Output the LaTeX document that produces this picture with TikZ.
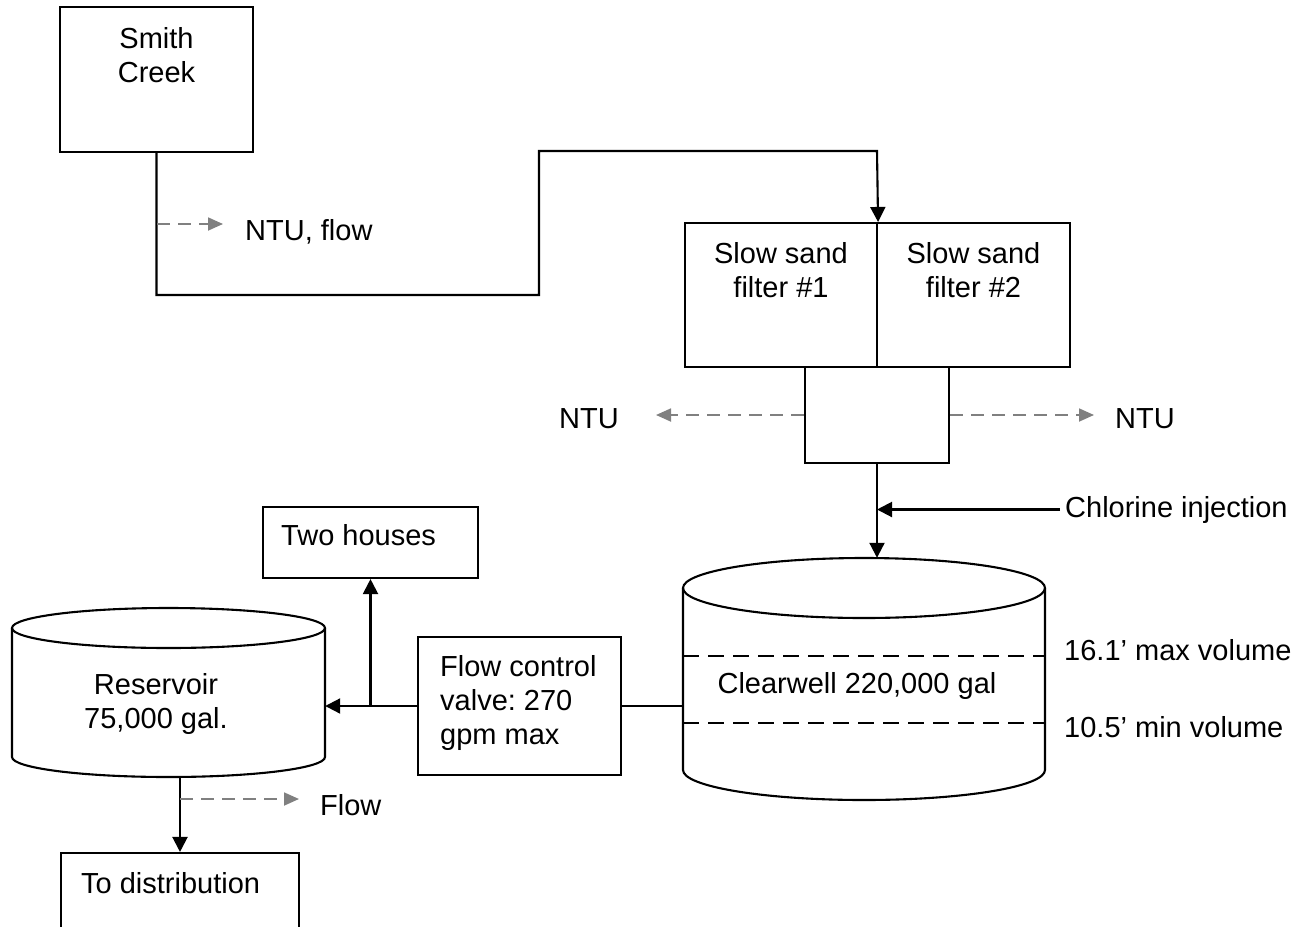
\documentclass[tikz,border=0pt]{standalone}
\usepackage{fontspec}
\setmainfont{Liberation Sans}
\usetikzlibrary{arrows.meta}
\definecolor{probegray}{RGB}{128,128,128}
\frenchspacing
\tikzset{
  unit/.style={draw, line width=2.1pt, inner sep=0pt},
  tank/.style={inner sep=0pt},
  txt/.style={inner sep=0pt, align=left},
  pipe/.style={line width=2.1pt},
  flowline/.style={pipe, -{Triangle[length=15pt,width=15pt]}},
  probe/.style={draw=probegray, line width=1.8pt, dash pattern=on 13pt off 8pt,
    -{Triangle[length=15pt,width=13pt]}},
  level/.style={line width=2.1pt, dash pattern=on 16pt off 9pt}
}
\begin{document}
\begin{tikzpicture}[x=1pt, y=-1pt, font=\fontsize{29}{34}\selectfont]
  \useasboundingbox (0,0) rectangle (1305,926);
  \clip (0,0) rectangle (1305,926);

  \node[unit, minimum width=193pt, minimum height=145pt] (creek) at (156.5,79.5) {};
  \node[txt, align=center, anchor=north] (creektxt) at (156.5,27) {Smith\\Creek};

  \node[unit, minimum width=192pt, minimum height=144pt] (filt1) at (781,295) {};
  \node[unit, minimum width=193pt, minimum height=144pt] (filt2) at (973.5,295) {};
  \node[txt, align=center, anchor=north] (filt1txt) at (781,242) {Slow sand\\filter \#1};
  \node[txt, align=center, anchor=north] (filt2txt) at (973.5,242) {Slow sand\\filter \#2};
  \node[unit, minimum width=144pt, minimum height=96pt] (collector) at (877,415) {};

  \node[tank, minimum width=362pt, minimum height=242pt] (clearwell) at (864,679) {};
  \draw[pipe] (683,588) -- (683,770) arc[start angle=180, end angle=360, x radius=181pt, y radius=30pt] -- (1045,588);
  \draw[pipe] (864,588) ellipse [x radius=181pt, y radius=30pt];
  \draw[level] (683,656) -- (1045,656);
  \draw[level] (683,723) -- (1045,723);
  \node[txt, anchor=base] (clearwelltxt) at (857,693) {Clearwell 220,000 gal};
  \node[txt, anchor=base west] (maxlevel) at (1064,660) {16.1’ max volume};
  \node[txt, anchor=base west] (minlevel) at (1064,737) {10.5’ min volume};

  \node[unit, minimum width=203pt, minimum height=138pt] (valve) at (519.5,706) {};
  \node[txt, anchor=north west] (valvetxt) at (440,655) {Flow control\\valve: 270\\gpm max};

  \node[unit, minimum width=215pt, minimum height=71pt] (houses) at (370.5,542.5) {};
  \node[txt, anchor=base west] (housestxt) at (281,545) {Two houses};

  \node[tank, minimum width=313pt, minimum height=168pt] (reservoir) at (168.5,692) {};
  \draw[pipe] (12,628) -- (12,757) arc[start angle=180, end angle=360, x radius=156.5pt, y radius=20pt] -- (325,628);
  \draw[pipe] (168.5,628) ellipse [x radius=156.5pt, y radius=20pt];
  \node[txt, align=center, anchor=north] (restxt) at (156,673) {Reservoir\\75,000 gal.};

  \node[unit, minimum width=238pt, minimum height=140pt] (dist) at (180,923) {};
  \node[txt, anchor=base west] (disttxt) at (81,893) {To distribution};

  \node[txt, anchor=base west] (ntuflow) at (245,240) {NTU, flow};
  \node[txt, anchor=base west] (ntuleft) at (559,428) {NTU};
  \node[txt, anchor=base west] (nturight) at (1115,428) {NTU};
  \node[txt, anchor=base west] (chlorine) at (1065,517) {Chlorine injection};
  \node[txt, anchor=base west] (flowtxt) at (320,815) {Flow};

  \coordinate (riser) at (539,295);
  \coordinate (crest) at (877,151);
  \draw[flowline] (creek.south) |- (riser) |- (crest) -- (filt1.north east);
  \draw[flowline] (collector.south) -- (collector.south |- clearwell.north);
  \draw[flowline] ([xshift=-5pt]chlorine.west) -- (chlorine.west -| collector.south);
  \draw[pipe] (clearwell.west |- valve.east) -- (valve.east);
  \draw[flowline] (valve.west) -- (reservoir.east |- valve.west);
  \coordinate (junction) at (houses.south |- valve.west);
  \draw[flowline] (junction) -- (houses.south);
  \draw[flowline] (dist.north |- reservoir.south) -- (dist.north);

  \coordinate (tap1) at (157,224);
  \coordinate (tap2) at (180,799);
  \draw[probe, shorten >=22pt] (tap1) -- (tap1 -| ntuflow.west);
  \draw[probe, shorten >=37pt] (collector.west) -- (collector.west -| ntuleft.east);
  \draw[probe, shorten >=21pt] (collector.east) -- (collector.east -| nturight.west);
  \draw[probe, shorten >=21pt] (tap2) -- (tap2 -| flowtxt.west);
\end{tikzpicture}
\end{document}
